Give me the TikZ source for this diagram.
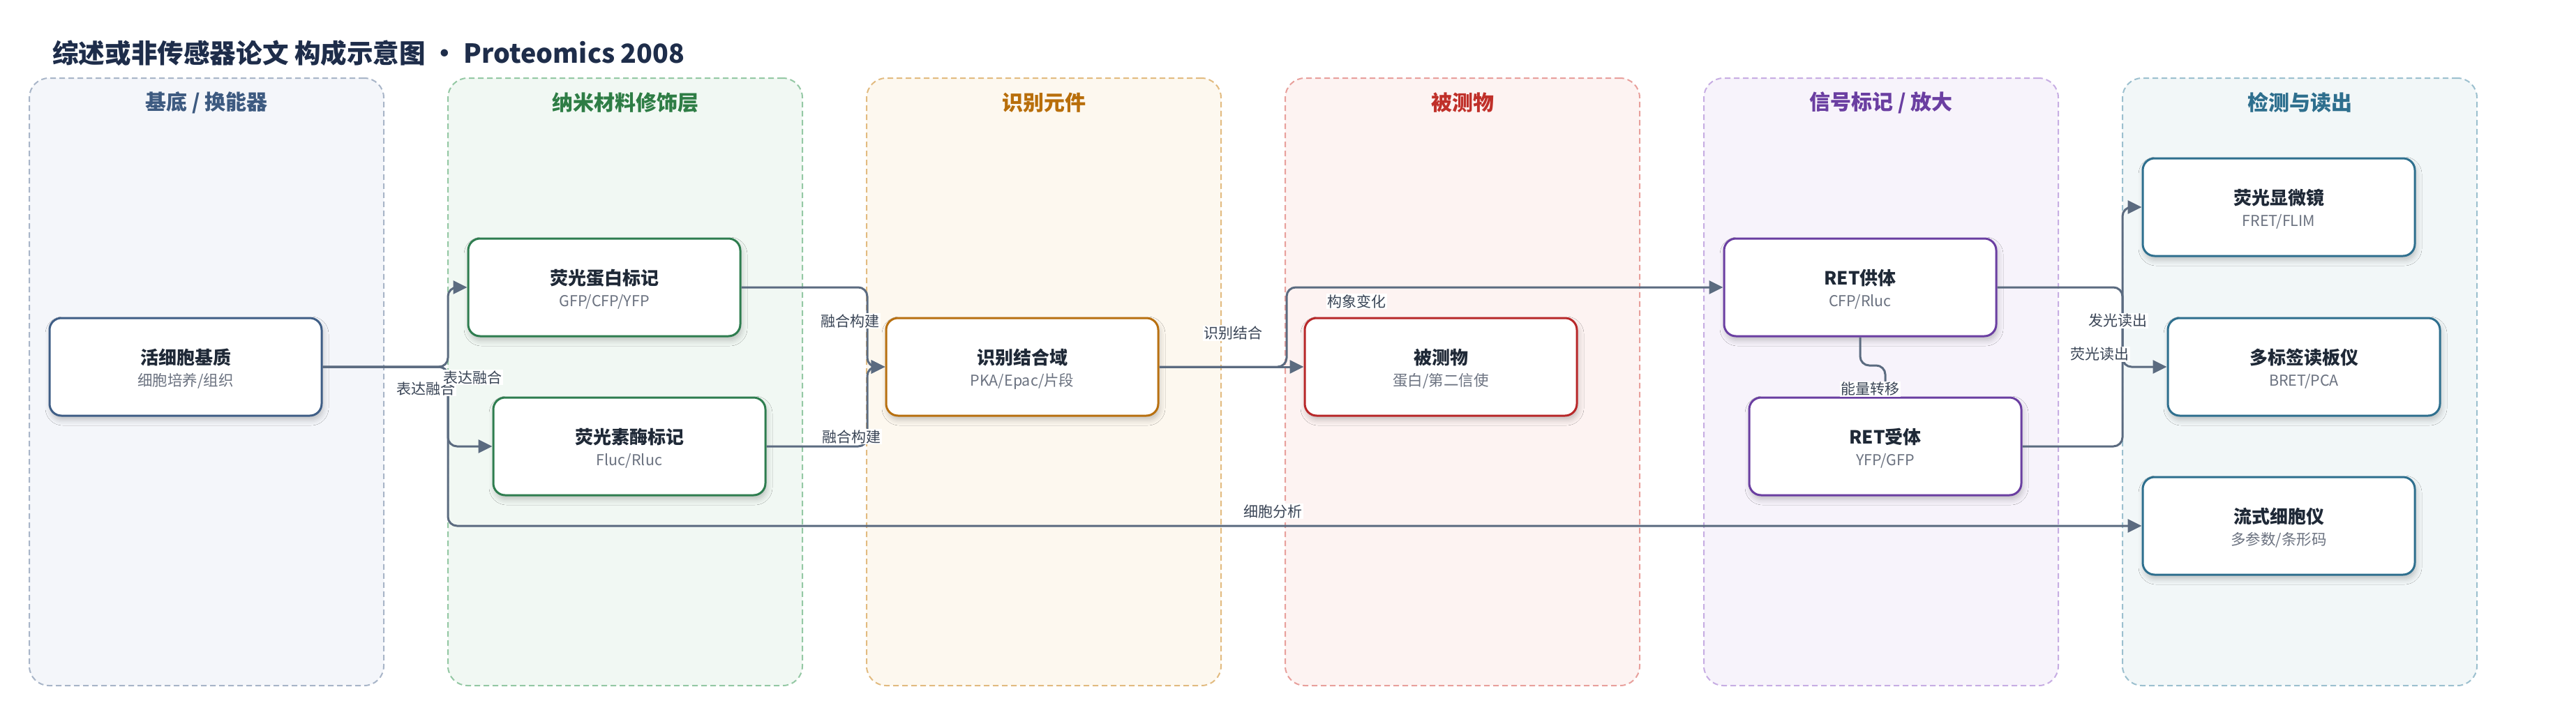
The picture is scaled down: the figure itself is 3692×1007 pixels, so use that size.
\documentclass[tikz,border=0pt]{standalone}
\usepackage{fontspec}
\setmainfont{Noto Sans CJK SC}
\usetikzlibrary{arrows.meta,shadows.blur}
\definecolor{titlec}{HTML}{1E2D4A}
\definecolor{ntext}{HTML}{1F2937}
\definecolor{nsubc}{HTML}{6B7280}
\definecolor{linec}{HTML}{5B6B80}
\definecolor{lblc}{HTML}{3A4556}
% panel colours
\definecolor{pfA}{HTML}{F4F6FA}\definecolor{pbA}{HTML}{A8B5C8}\definecolor{phA}{HTML}{3D5A80}
\definecolor{pfB}{HTML}{F1F8F3}\definecolor{pbB}{HTML}{94C8A4}\definecolor{phB}{HTML}{2E7D45}
\definecolor{pfC}{HTML}{FDF8EF}\definecolor{pbC}{HTML}{E2BB80}\definecolor{phC}{HTML}{B86E0A}
\definecolor{pfD}{HTML}{FDF3F2}\definecolor{pbD}{HTML}{E8A09C}\definecolor{phD}{HTML}{C0302A}
\definecolor{pfE}{HTML}{F7F3FB}\definecolor{pbE}{HTML}{C7ADE3}\definecolor{phE}{HTML}{6A3EA1}
\definecolor{pfF}{HTML}{F2F7F8}\definecolor{pbF}{HTML}{9CC0CF}\definecolor{phF}{HTML}{2E6F8E}
\definecolor{nbA}{HTML}{3F5E86}
\definecolor{nbB}{HTML}{2E7D4F}
\definecolor{nbC}{HTML}{B87010}
\definecolor{nbD}{HTML}{B8282A}
\definecolor{nbE}{HTML}{6A3EA1}
\definecolor{nbF}{HTML}{2E6F8E}
\tikzset{
  panel/.style 2 args={draw=#1, fill=#2, line width=2pt, dash pattern=on 8pt off 5pt,
    rounded corners=28pt, minimum width=508pt, minimum height=871pt, inner sep=0pt},
  phead/.style={text=#1, font=\fontsize{30}{36}\selectfont\bfseries, inner sep=0pt},
  nbox/.style={draw=#1, fill=white, line width=3pt, rounded corners=17pt,
    minimum width=390pt, minimum height=140pt, inner sep=0pt,
    blur shadow={shadow xshift=2pt, shadow yshift=-6pt, shadow blur radius=8pt, shadow opacity=22}},
  ntitle/.style={text=ntext, font=\fontsize{26}{32}\selectfont\bfseries, inner sep=0pt},
  nsub/.style={text=nsubc, font=\fontsize{21.5}{26}\selectfont, inner sep=0pt},
  conn/.style={draw=linec, line width=3pt, rounded corners=13pt,
    -{Triangle[length=20pt, width=19pt]}},
  lbl/.style={fill=white, text=lblc, font=\fontsize{21}{25}\selectfont, inner sep=1.5pt},
}
\newcommand\mkbox[6]{%
  \node[nbox=#4] (#1) at (#2,#3) {};
  \node[ntitle] (#1-t) at ([yshift=13.5pt]#1.center) {#5};
  \node[nsub] (#1-s) at ([yshift=-20.5pt]#1.center) {#6};
}
\begin{document}
\begin{tikzpicture}[x=1pt, y=-1pt]
\useasboundingbox[fill=white] (0,0) rectangle (3692,1007);

% title
\node[anchor=west, inner sep=0pt, text=titlec, font=\fontsize{37.6}{46}\selectfont\bfseries]
  (title) at (75,76) {综述或非传感器论文 构成示意图 • Proteomics 2008};

% panels
\node[panel={pbA}{pfA}] (p1) at (296,547.5) {};
\node[panel={pbB}{pfB}] (p2) at (896,547.5) {};
\node[panel={pbC}{pfC}] (p3) at (1496,547.5) {};
\node[panel={pbD}{pfD}] (p4) at (2096,547.5) {};
\node[panel={pbE}{pfE}] (p5) at (2696,547.5) {};
\node[panel={pbF}{pfF}] (p6) at (3296,547.5) {};

\node[phead=phA] (h1) at (296,147) {基底 / 换能器};
\node[phead=phB] (h2) at (896,147) {纳米材料修饰层};
\node[phead=phC] (h3) at (1496,147) {识别元件};
\node[phead=phD] (h4) at (2096,147) {被测物};
\node[phead=phE] (h5) at (2696,147) {信号标记 / 放大};
\node[phead=phF] (h6) at (3296,147) {检测与读出};

% nodes
\mkbox{sub}{266}{526}{nbA}{活细胞基质}{细胞培养/组织}
\mkbox{fp}{866}{412}{nbB}{荧光蛋白标记}{GFP/CFP/YFP}
\mkbox{luc}{902}{640}{nbB}{荧光素酶标记}{Fluc/Rluc}
\mkbox{rbd}{1465}{526}{nbC}{识别结合域}{PKA/Epac/片段}
\mkbox{ana}{2065}{526}{nbD}{被测物}{蛋白/第二信使}
\mkbox{don}{2666}{412}{nbE}{RET供体}{CFP/Rluc}
\mkbox{acc}{2702}{640}{nbE}{RET受体}{YFP/GFP}
\mkbox{mic}{3266}{297}{nbF}{荧光显微镜}{FRET/FLIM}
\mkbox{plate}{3302}{526}{nbF}{多标签读板仪}{BRET/PCA}
\mkbox{flow}{3266}{754}{nbF}{流式细胞仪}{多参数/条形码}

% routing coordinates
\coordinate (tk1) at (642,0);
\coordinate (tk2) at (1243,0);
\coordinate (tk3) at (1844,0);
\coordinate (tk4) at (3042,0);
\coordinate (et) at (0,524);

% connectors
\draw[conn] (sub.east) -- (sub.east -| tk1) |- (fp.west);
\draw[conn] (sub.east) -- (sub.east -| tk1) |- (luc.west);
\draw[conn] (sub.east) -- (sub.east -| tk1) |- (flow.west);
\draw[conn] (fp.east) -- (fp.east -| tk2) |- (rbd.west);
\draw[conn] (luc.east) -- (luc.east -| tk2) |- (rbd.west);
\draw[conn] (rbd.east) -- (ana.west);
\draw[conn] (rbd.east) -- (rbd.east -| tk3) |- (don.west);
\draw[conn] (don.south) -- (don.south |- et) -| (acc.north);
\draw[conn] (don.east) -- (don.east -| tk4) |- (plate.west);
\draw[conn] (acc.east) -- (acc.east -| tk4) |- (mic.west);

% connector labels
\node[lbl] (lb1) at (610,557) {表达融合};
\node[lbl] (lb2) at (677,541) {表达融合};
\node[lbl] (lb3) at (1824,733) {细胞分析};
\node[lbl] (lb4) at (1218,460) {融合构建};
\node[lbl] (lb5) at (1220,626) {融合构建};
\node[lbl] (lb6) at (1767,478) {识别结合};
\node[lbl] (lb7) at (1944,432) {构象变化};
\node[lbl] (lb8) at (2680,558) {能量转移};
\node[lbl] (lb9) at (3035,460) {发光读出};
\node[lbl] (lb10) at (3009,508) {荧光读出};
\end{tikzpicture}
\end{document}
